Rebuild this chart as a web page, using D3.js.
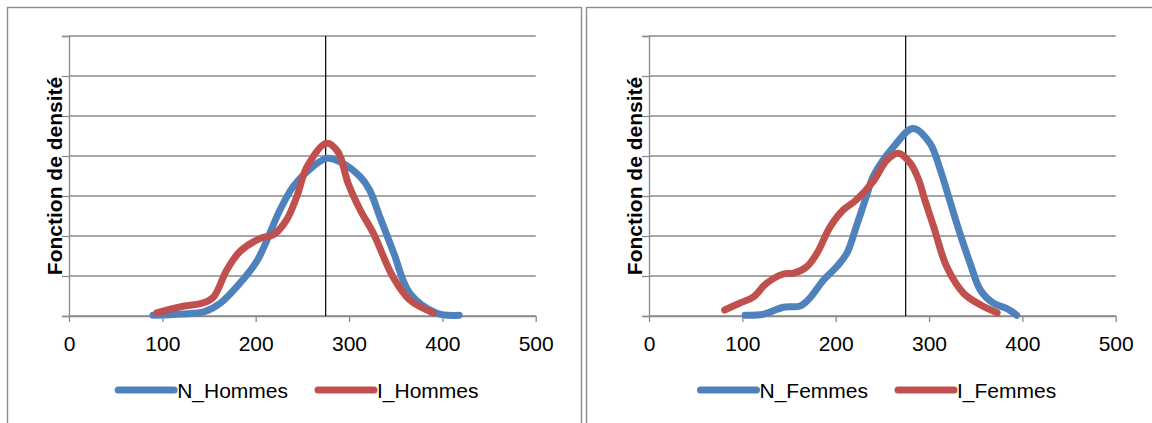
<!DOCTYPE html>
<html>
<head>
<meta charset="utf-8">
<script src="https://cdn.jsdelivr.net/npm/d3@7"></script>
<style>
  html, body { margin: 0; padding: 0; background: #fff; }
  svg { display: block; font-family: "Liberation Sans", Arial, sans-serif; }
</style>
</head>
<body>
<svg id="chart" width="1152" height="423"></svg>
<script>
// Score axis (x) and density axis (y, in thousandths)
const xTicks = [0, 100, 200, 300, 400, 500];
const densityTicks = [0, 2, 4, 6, 8, 10, 12, 14];
const referenceScore = 275;
const yTitle = "Fonction de densité";

// Hommes
const nHommesX = [90, 120, 145, 162, 186, 202, 226, 240, 255, 276, 290, 312, 322, 333, 348, 365, 394, 418];
const nHommesY = [0.04, 0.10, 0.22, 0.64, 1.80, 2.80, 5.30, 6.46, 7.22, 7.88, 7.72, 6.96, 6.30, 4.96, 3.14, 1.14, 0.14, 0.04];
const iHommesX = [94, 119, 144, 155, 169, 183, 205, 219, 233, 244, 255, 276, 288, 299, 312, 326, 347, 365, 390];
const iHommesY = [0.16, 0.46, 0.66, 0.96, 2.30, 3.22, 3.88, 4.06, 4.80, 5.96, 7.46, 8.64, 8.22, 6.64, 5.30, 4.14, 1.96, 0.80, 0.16];

// Femmes
const nFemmesX = [103, 122, 144, 162, 172, 187, 201, 212, 222, 233, 240, 262, 283, 301, 312, 321, 333, 344, 355, 369, 383, 394];
const nFemmesY = [0.04, 0.08, 0.44, 0.50, 0.88, 1.80, 2.46, 3.14, 4.46, 6.00, 6.96, 8.46, 9.38, 8.64, 7.32, 5.96, 4.14, 2.64, 1.30, 0.64, 0.38, 0.04];
const iFemmesX = [81, 97, 112, 126, 144, 155, 169, 180, 194, 208, 222, 240, 255, 267, 280, 289, 295, 305, 319, 337, 355, 373];
const iFemmesY = [0.30, 0.64, 0.96, 1.64, 2.10, 2.14, 2.46, 3.14, 4.46, 5.30, 5.80, 6.72, 7.80, 8.14, 7.64, 6.80, 5.88, 4.46, 2.46, 1.14, 0.56, 0.16];

const BLUE = "#4F81BD";
const RED = "#C0504D";
const GRID = "#8a8a8a";
const LINE_W = 7;

const panels = [
  {
    left: 7, width: 575, plotLeft: 69,
    series: [
      { name: "N_Hommes", xs: nHommesX, ys: nHommesY, color: BLUE },
      { name: "I_Hommes", xs: iHommesX, ys: iHommesY, color: RED }
    ]
  },
  {
    left: 586, width: 600, plotLeft: 649,
    series: [
      { name: "N_Femmes", xs: nFemmesX, ys: nFemmesY, color: BLUE },
      { name: "I_Femmes", xs: iFemmesX, ys: iFemmesY, color: RED }
    ]
  }
];

const svg = d3.select("#chart");
const plotWidth = 466.7, plotTop = 36, plotBottom = 316;

panels.forEach(p => {
  // panel frame
  svg.append("rect")
    .attr("x", p.left + 0.5).attr("y", 7.5)
    .attr("width", p.width - 1).attr("height", 440)
    .attr("fill", "none").attr("stroke", "#8c8c8c").attr("stroke-width", 1.4);

  const x = d3.scaleLinear().domain([0, 500]).range([p.plotLeft, p.plotLeft + plotWidth]);
  const y = d3.scaleLinear().domain([0, 14]).range([plotBottom, plotTop]);
  const g = svg.append("g");

  // horizontal gridlines
  g.selectAll("line.grid").data(densityTicks).join("line")
    .attr("x1", x(0)).attr("x2", x(500))
    .attr("y1", d => y(d)).attr("y2", d => y(d))
    .attr("stroke", GRID).attr("stroke-width", 1.3);

  // y axis with outside ticks, no labels
  const yAxis = g.append("g").attr("transform", `translate(${x(0)},0)`)
    .call(d3.axisLeft(y).tickValues(densityTicks).tickSize(7).tickFormat(""));
  yAxis.select(".domain").attr("stroke", GRID).attr("stroke-width", 1.3);
  yAxis.selectAll(".tick line").attr("stroke", GRID).attr("stroke-width", 1.3);

  // x axis
  const xAxis = g.append("g").attr("transform", `translate(0,${plotBottom})`)
    .call(d3.axisBottom(x).tickValues(xTicks).tickSize(6).tickSizeOuter(0).tickPadding(14));
  xAxis.select(".domain").attr("stroke", GRID).attr("stroke-width", 1.3);
  xAxis.selectAll(".tick line").attr("stroke", GRID).attr("stroke-width", 1.3);
  xAxis.selectAll(".tick text")
    .attr("font-size", 21).attr("fill", "#000")
    .attr("font-family", "'Liberation Sans', Arial, sans-serif");

  // y axis title
  g.append("text")
    .attr("transform", `translate(${p.plotLeft - 7},${(plotTop + plotBottom) / 2}) rotate(-90)`)
    .attr("text-anchor", "middle")
    .attr("font-size", 21).attr("font-weight", "bold").attr("fill", "#000")
    .text(yTitle);

  // reference line
  g.append("line")
    .attr("x1", x(referenceScore)).attr("x2", x(referenceScore))
    .attr("y1", plotTop).attr("y2", plotBottom)
    .attr("stroke", "#000").attr("stroke-width", 1.2);

  // density curves
  const line = d3.line()
    .x(d => x(d[0])).y(d => y(d[1]))
    .curve(d3.curveCatmullRom.alpha(0.5));
  p.series.forEach(s => {
    const pts = s.xs.map((v, i) => [v, s.ys[i]]);
    g.append("path")
      .attr("d", line(pts))
      .attr("fill", "none").attr("stroke", s.color)
      .attr("stroke-width", LINE_W)
      .attr("stroke-linecap", "round").attr("stroke-linejoin", "round");
  });

  // legend
  const leg = g.append("g");
  let cx = 0;
  p.series.forEach(s => {
    const it = leg.append("g");
    it.append("line").attr("x1", 0).attr("x2", 56).attr("y1", 0).attr("y2", 0)
      .attr("stroke", s.color).attr("stroke-width", LINE_W).attr("stroke-linecap", "round");
    const t = it.append("text").attr("x", 59).attr("y", 8)
      .attr("font-size", 21).attr("fill", "#000").text(s.name);
    const w = 59 + t.node().getComputedTextLength();
    it.attr("transform", `translate(${cx},0)`);
    cx += w + 30;
  });
  const total = cx - 30;
  const center = p.plotLeft + plotWidth / 2 - 4;
  leg.attr("transform", `translate(${center - total / 2},390)`);
});
</script>
</body>
</html>
